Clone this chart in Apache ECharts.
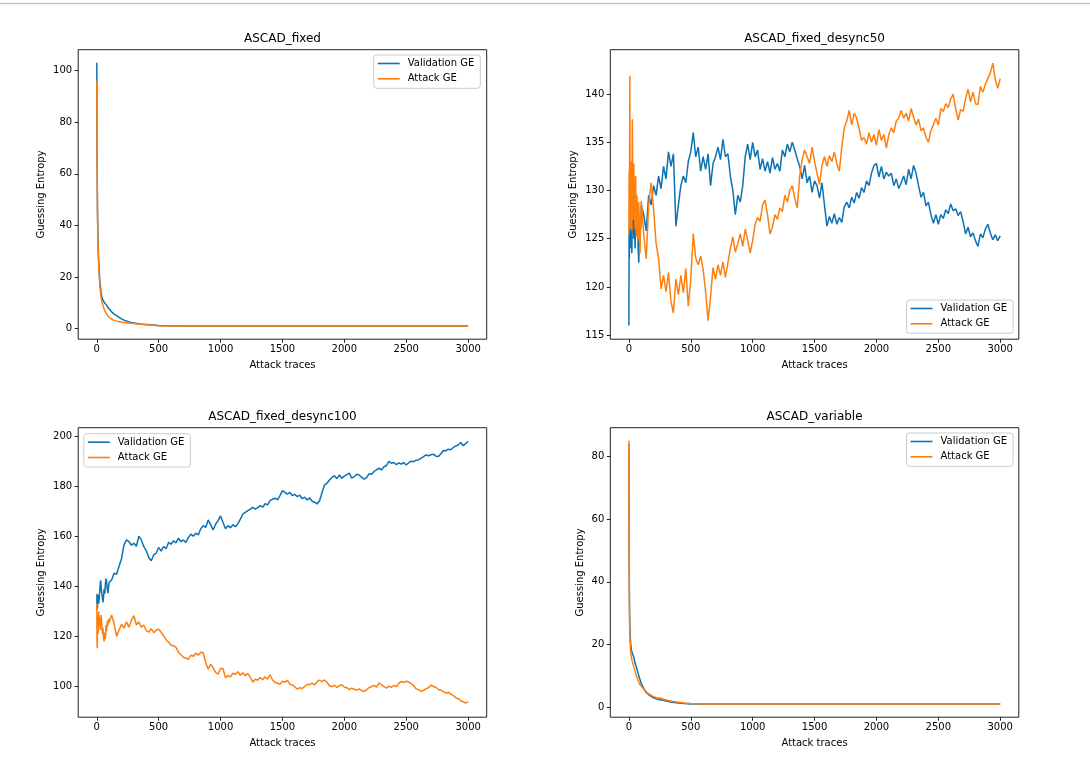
<!DOCTYPE html>
<html><head><meta charset="utf-8">
<script src="https://cdn.jsdelivr.net/npm/echarts@6/dist/echarts.min.js"></script>
<style>html,body{margin:0;padding:0;background:#fff}#c{width:1090px;height:766px}</style>
</head><body><div id="c"></div><script>
// ---------- data ----------
const titles = ['ASCAD_fixed', 'ASCAD_fixed_desync50', 'ASCAD_fixed_desync100', 'ASCAD_variable'];
const seriesNames = ['Validation GE', 'Attack GE'];
const xTicks = [0, 500, 1000, 1500, 2000, 2500, 3000];
const yTicksFixed = [0, 20, 40, 60, 80, 100];
const yTicksD50 = [115, 120, 125, 130, 135, 140];
const yTicksD100 = [100, 120, 140, 160, 180, 200];
const yTicksVar = [0, 20, 40, 60, 80];

// trace counts sampled for the two fast-converging experiments
const tracesDecay = [0,1,2,3,4,5,6,8,10,12,15,20,25,30,35,40,50,60,70,80,90,100,120,140,160,180,200,225,250,275,300,350,400,450,500,550,600,700,800,1000,1500,2000,2500,3000];
const fixedValidation = [103,96,80,68,58,52,46,40,35,31,27,22,18,16,14,12.5,11,10.2,9.5,9,8.2,7.8,6.5,5.6,5,4.4,3.8,3.2,2.8,2.4,2.2,1.8,1.6,1.4,1.2,1.15,1.1,1.05,1,1,1,1,1,1];
const fixedAttack = [96,85,72,62,55,48,43,37,33,29,25,20,16.5,14,12,10.8,9,7.5,6.5,5.6,5,4.4,3.7,3.2,2.9,2.7,2.5,2.35,2.2,2.1,2,1.7,1.5,1.3,1.1,1.05,1,1,1,1,1,1,1,1];
const variableValidation = [84,70,55,45,38,33,30,26,24,22,20,18.5,17.5,17,17.3,16,14,13,11.5,10,8.8,7.5,6,4.8,4,3.4,3,2.6,2.4,2.2,2,1.6,1.3,1.15,1.05,1,1,1,1,1,1,1,1,1];
const variableAttack = [85,62,48,40,34,30,27,23,21,19,17.5,16,15,14.2,13.5,12.8,11.5,10,9,8,7.2,6.8,5.8,4.6,4.3,3.8,3.3,3,2.9,2.6,2.3,1.9,1.6,1.35,1.2,1.1,1.05,1,1,1,1,1,1,1];

// trace counts sampled for the desynchronised experiments
const tracesDesync = [0,2,4,6,8,10,13,16,20,24,28,32,36,40,45,50,55,60,65,70,75,80,85,90,95,100,
 120,140,160,180,200, 220,240,260,280,300, 320,340,360,380,400, 420,440,460,480,500,
 520,540,560,580,600, 620,640,660,680,700, 720,740,760,780,800, 820,840,860,880,900,
 920,940,960,980,1000, 1020,1040,1060,1080,1100, 1120,1140,1160,1180,1200, 1220,1240,1260,1280,1300,
 1320,1340,1360,1380,1400, 1420,1440,1460,1480,1500, 1520,1540,1560,1580,1600, 1620,1640,1660,1680,1700,
 1720,1740,1760,1780,1800, 1820,1840,1860,1880,1900, 1920,1940,1960,1980,2000, 2020,2040,2060,2080,2100,
 2120,2140,2160,2180,2200, 2220,2240,2260,2280,2300, 2320,2340,2360,2380,2400, 2420,2440,2460,2480,2500,
 2520,2540,2560,2580,2600, 2620,2640,2660,2680,2700, 2720,2740,2760,2780,2800, 2820,2840,2860,2880,2900,
 2920,2940,2960,2980,3000];
const d50Validation = [116,125.5,123,126,128.5,124,127,129,125,123.5,127.5,126,128.7,125,127,124,126.5,128.5,125.5,127,124,122.5,125,127,126,128.5,
 127.5,125.8,129.5,128.5,130.5, 129.5,131.5,130.2,132.5,131.2, 134,132.5,133.8,126.3,128.5, 130.5,131.5,130.8,133,134,
 136,133.5,134.5,132,133.5, 132.2,133.8,130.5,132.8,133.5, 134.5,133.2,135.3,133.5,133.8, 131.5,130,127.5,129.5,128.8,
 130.5,133.5,134.8,133.2,135, 133.5,134.2,132.2,133.3,132, 133,131.8,133.4,132.2,132.8, 132,134.2,133.5,134.8,134,
 135,134.2,133.3,132.5,131.2, 132.6,130.8,131.5,129.8,131, 130.5,129.2,130.8,128.5,126.3, 127.3,126.6,127.6,126.5,127.2,
 126.7,128.3,128.8,128.2,129.3, 128.7,129.8,129.2,130.3,129.8, 131,130.5,131.8,132.6,132.8, 131.4,132.5,131.2,131.9,131.5,
 131.8,130.5,131.2,130.2,130.8, 131.5,130.6,132.2,131.2,132.6, 131.8,130.5,129.3,129.8,128.4, 128.8,127.5,126.6,127.5,126.5,
 127.5,127.1,128,127.6,128.6, 127.9,128.1,127.4,127.8,126.8, 125.5,126.2,125.2,125.6,124.8, 124.2,125.5,125.1,126,126.5,
 125.6,124.9,125.4,124.8,125.3];
const d50Attack = [125.5,132,128,135,141.9,130,126,133,129.5,125.8,137.4,131,127,132.8,128.5,126,131.5,125.2,129.5,127.5,124.8,128.8,126.5,123.5,126.8,128.9,
 125.5,122.9,128.5,130.8,128, 124.5,123,119.8,121.2,119.5, 121.5,118.5,117.3,120.8,119.2, 121.2,119.4,121.9,118,120.8,
 125.5,123,122.3,123.2,121.8, 119.5,116.5,119,122,120.8, 122.3,121.2,122.6,121,122.5, 124,125.2,123.6,124.5,125.5,
 124.2,126,124.8,123.5,124.8, 126.5,127.2,126.8,128.5,129, 127.5,125.5,126.2,127.5,127, 128.2,127.8,129.5,128.8,130,
 130.5,129.2,128.2,131.5,133.2, 134.2,133.5,132.8,134.5,133, 131.8,130.6,132.6,133.5,132.5, 133.6,133,134,132.8,132,
 134.5,136.5,137.2,138.3,136.8, 138,137.5,136.4,135.2,135.5, 134.8,136,135,135.8,134.7, 136.3,135.2,135.8,134.4,135.8,
 136.5,136,137.2,137.5,138.3, 137.5,138,137.2,138.5,137.6, 136.8,137.4,136.2,136.5,135.5, 135,136.2,136.8,137.5,136.8,
 138.5,138.2,139,138.6,139.5, 140,138.5,137.3,138.4,138.2, 139.5,140.5,139.2,140.2,139, 138.9,140.8,140.2,141,141.6,
 142.2,143.2,141.5,140.6,141.6];
const d100Validation = [130.5,137,133.5,131,135,134,136.5,133,135.5,138,141,142.3,139,137.5,135.5,133.5,136,139,137,141,143,141.5,139,137.2,139.5,141.5,
 142.5,145.2,144.8,148,151, 156.5,158.5,157.8,156.4,157.2, 156,160,158.5,155.8,154.2, 151.5,150.2,152.5,153.2,155.5,
 154,155.9,155,157.5,156.8, 158.2,157.3,159.2,157.8,158.5, 157.5,159.5,160.8,160,161.2, 160.5,163,164.2,163.5,166.5,
 164.5,162.5,164.8,166.2,168.1, 165.5,163,164.2,163.4,164.6, 163.8,165,166.8,168.8,169.5, 170.2,170.8,171.5,170.8,171.4,
 172.2,171.6,173,172.5,174.2, 174.8,175.2,174.5,176.2,178.2, 177.5,176.8,177.5,176.2,176.8, 175.8,176.4,175,175.6,174.5,
 175.3,174,173.6,172.9,174.2, 177.5,180.5,181.2,182.5,183.5, 184.2,183,184.5,183.2,184, 184.6,185.2,183.2,183.8,184.8,
 184.5,183.5,182.8,183.4,185, 184.8,185.9,186.5,187.2,186.5, 187.8,188.2,189.9,189.2,189.5, 188.6,189.3,188.8,189.5,188.5,
 189.4,190,189.8,190.4,190.5, 191.2,191.8,192.5,192.2,192.6, 192.8,192,191.9,193,194.3, 194.2,194.8,194.6,195.5,196,
 196.5,197.5,196.2,197,198];
const d100Attack = [133.2,118,115.2,124,128.5,121,126.5,130,124.5,127.5,122.5,126,128.5,125,121,123.5,119,117.9,121.5,119,124.5,122,126,124.2,127,125.5,
 128.5,125,119.9,122.5,124.8, 123.2,125.8,123.6,126.4,128.2, 124.5,125.8,123.6,124.5,122.2, 121.6,123,121.4,122.5,122.8,
 121.6,120.2,118.5,117.6,116.4, 116.2,115.5,113.6,112.6,111.6, 111.2,110.8,112.4,112,113.2, 112.4,113.6,113.4,109.5,106.8,
 108.8,107.3,105.5,104.8,107.2, 107,103.4,104.2,103.8,105.2, 104.8,105.8,104.4,105.4,104.2, 105,103.8,101.6,102.8,102.4,
 103.5,102.6,103.8,102.8,104.6, 102.5,101.5,101.2,100.8,102, 101.6,102.3,100.8,100.5,99.8, 98.8,99.4,99.1,99.9,100.8,
 100.6,101.2,100.5,101.8,102.4, 101.8,102.5,101.6,100.2,99.8, 100.4,99.5,100.2,100.6,99.6, 99.4,98.6,99.2,98.8,98.4,
 98.9,98.2,97.9,98.6,99.5, 99.8,100.3,99.6,101.2,100.6, 99.8,99.2,100,99.6,100.3, 99.8,101.2,101.9,101.5,102,
 101.7,101,100.2,99,98.5, 98,98.3,99,99.4,100.5, 99.8,99.6,98.7,98.4,97.8, 97.2,97.6,96.8,96.2,95.4,
 95,94.2,93.8,93.2,93.8];

// ---------- layout / style ----------
const FONT = 'DejaVu Sans';
const COLORS = ['#0c72b3', '#ff7f0e'];
const GW = 408.5, GH = 289.5;
const panels = [
  { left: 78.2, top: 49.7, yMin: -4.1, yMax: 108.1, yTicks: yTicksFixed, x: tracesDecay, v: fixedValidation, a: fixedAttack, legend: { left: 373.7, top: 55 }, yGap: 30.5 },
  { left: 610.3, top: 49.7, yMin: 114.58, yMax: 144.6, yTicks: yTicksD50, x: tracesDesync, v: d50Validation, a: d50Attack, legend: { left: 906.5, top: 300 }, yGap: 30.5 },
  { left: 78.2, top: 427.7, yMin: 87.6, yMax: 203.4, yTicks: yTicksD100, x: tracesDesync, v: d100Validation, a: d100Attack, legend: { left: 83.8, top: 433.7 }, yGap: 30.5 },
  { left: 610.3, top: 427.7, yMin: -3.2, yMax: 89.2, yTicks: yTicksVar, x: tracesDecay, v: variableValidation, a: variableAttack, legend: { left: 906.5, top: 433 }, yGap: 23.5 }
];
const txt = { fontFamily: FONT, fontSize: 10, color: '#000' };
const plain = v => String(v);
const zip = (xs, ys) => xs.map((x, i) => [x, ys[i]]);

const option = {
  animation: false,
  backgroundColor: '#fff',
  graphic: [{ type: 'line', shape: { x1: 0, y1: 3.5, x2: 1090, y2: 3.5 }, style: { stroke: '#c4c4c4', lineWidth: 1.5 } }],
  title: panels.map((p, i) => ({
    text: titles[i], left: p.left + GW / 2, top: p.top - 17.5, textAlign: 'center', padding: 0,
    textStyle: { fontFamily: FONT, fontSize: 12, fontWeight: 'normal', color: '#000', lineHeight: 14 }
  })),
  legend: panels.map(p => ({
    data: seriesNames, orient: 'vertical', left: p.legend.left, top: p.legend.top,
    icon: 'rect', itemWidth: 22, itemHeight: 1.6, itemGap: 3.3, padding: [2.5, 6, 3.5, 4],
    backgroundColor: 'rgba(255,255,255,0.8)', borderColor: '#cccccc', borderWidth: 1, borderRadius: 3,
    textStyle: Object.assign({ lineHeight: 12, padding: [0, 0, 0, 3] }, txt),
    selectedMode: false
  })),
  grid: panels.map(p => ({
    left: p.left, top: p.top, width: GW, height: GH, containLabel: false, outerBoundsMode: 'none',
    show: true, borderColor: '#222', borderWidth: 1, backgroundColor: 'transparent'
  })),
  xAxis: panels.map((p, i) => ({
    gridIndex: i, type: 'value', min: -150, max: 3150, position: 'bottom',
    axisLine: { show: false, onZero: false }, splitLine: { show: false },
    axisTick: { show: true, length: 3.5, lineStyle: { color: '#222', width: 1 }, customValues: xTicks },
    axisLabel: Object.assign({ customValues: xTicks, margin: 5, formatter: plain }, txt),
    name: 'Attack traces', nameLocation: 'middle', nameGap: 20, nameTextStyle: Object.assign({ lineHeight: 12 }, txt)
  })),
  yAxis: panels.map((p, i) => ({
    gridIndex: i, type: 'value', min: p.yMin, max: p.yMax, position: 'left',
    axisLine: { show: false, onZero: false }, splitLine: { show: false },
    axisTick: { show: true, length: 3.5, lineStyle: { color: '#222', width: 1 }, customValues: p.yTicks },
    axisLabel: Object.assign({ customValues: p.yTicks, margin: 6, formatter: plain }, txt),
    name: 'Guessing Entropy', nameLocation: 'middle', nameGap: p.yGap, nameTextStyle: Object.assign({ lineHeight: 12 }, txt)
  })),
  series: panels.flatMap((p, i) => [
    { name: seriesNames[0], type: 'line', xAxisIndex: i, yAxisIndex: i, data: zip(p.x, p.v), showSymbol: false, symbol: 'none',
      lineStyle: { width: 1.5, color: COLORS[0] }, itemStyle: { color: COLORS[0] }, z: 2 },
    { name: seriesNames[1], type: 'line', xAxisIndex: i, yAxisIndex: i, data: zip(p.x, p.a), showSymbol: false, symbol: 'none',
      lineStyle: { width: 1.5, color: COLORS[1] }, itemStyle: { color: COLORS[1] }, z: 3 }
  ])
};
const chart = echarts.init(document.getElementById('c'), null, { renderer: 'canvas' });
chart.setOption(option);
</script></body></html>
